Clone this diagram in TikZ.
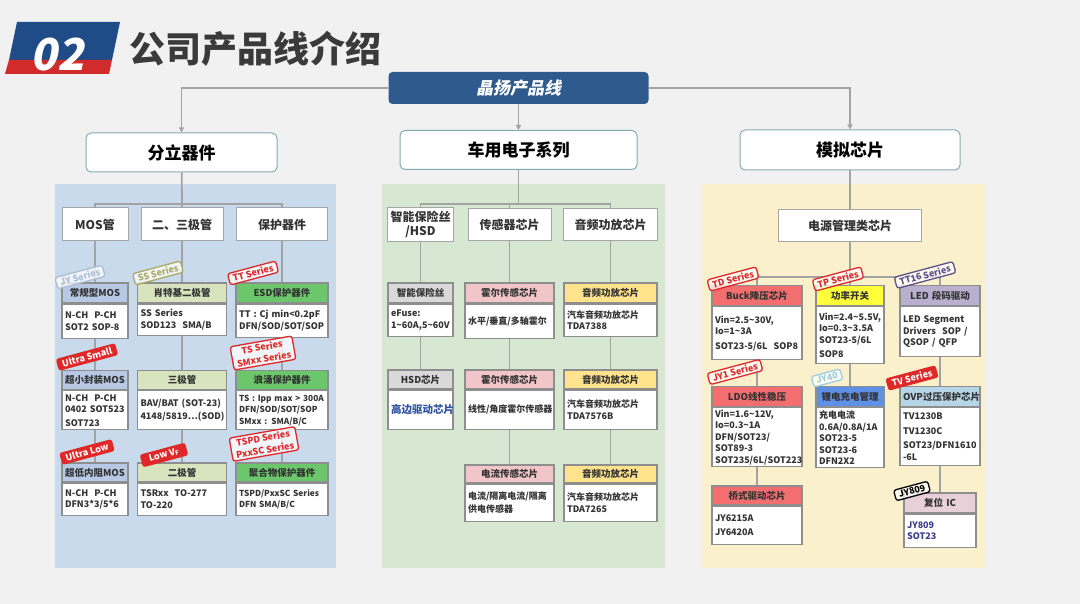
\documentclass[tikz,border=0pt]{standalone}
\usepackage{fontspec}
\setmainfont{Noto Sans CJK SC}
\newfontfamily\slantcjk{Noto Sans CJK SC}[FakeSlant=0.2]
\usetikzlibrary{arrows.meta,positioning}
\definecolor{bggray}{HTML}{F1F1F1}
\definecolor{bannerblue}{HTML}{1F4C86}
\definecolor{bannerred}{HTML}{D22B2B}
\definecolor{titlegray}{HTML}{3A3A3A}
\definecolor{rootblue}{HTML}{2F5A8E}
\definecolor{catline}{HTML}{86AAB0}
\definecolor{linkgray}{HTML}{A3A3A3}
\definecolor{cardline}{HTML}{8E8E8E}
\definecolor{txt}{HTML}{333333}
\definecolor{leftbg}{HTML}{C8DAEB}
\definecolor{midbg}{HTML}{D6E8D1}
\definecolor{rightbg}{HTML}{FBF0CC}
\definecolor{hmos}{HTML}{B7C9E4}
\definecolor{hss}{HTML}{D8E4BE}
\definecolor{hesd}{HTML}{6CC76C}
\definecolor{hgray}{HTML}{D9D9D9}
\definecolor{hpink}{HTML}{F2C6C8}
\definecolor{hyellow}{HTML}{FFE28C}
\definecolor{hsalmon}{HTML}{F36E6F}
\definecolor{hbright}{HTML}{FFFF3A}
\definecolor{hlav}{HTML}{B8B0CE}
\definecolor{hblue}{HTML}{5E90E6}
\definecolor{hpale}{HTML}{B6D5E6}
\definecolor{hrose}{HTML}{E8D0D8}
\definecolor{stampred}{HTML}{E02828}
\definecolor{stampsteel}{HTML}{AABDD6}
\definecolor{stampolive}{HTML}{AAAA62}
\definecolor{stamppurple}{HTML}{5F5088}
\definecolor{stampsky}{HTML}{9FCDE0}
\definecolor{lowblue}{HTML}{2F52A0}
\definecolor{resetblue}{HTML}{3C3C90}

\begin{document}
\begin{tikzpicture}[x=1pt,y=-1pt,>={Triangle[width=5pt,length=5pt]},
 link/.style={draw=linkgray,line width=1.8pt},
 rootbox/.style={fill=rootblue,rounded corners=4pt,text=white,font=\fontsize{17}{17}\selectfont\bfseries\slantcjk},
 catbox/.style={draw=catline,line width=1pt,fill=white,rounded corners=5pt,text=black,font=\fontsize{17}{17}\selectfont\bfseries},
 subbox/.style={draw=cardline!80,line width=1pt,fill=white,align=center,text=txt,font=\fontsize{12}{14}\selectfont\bfseries},
 head/.style={draw=cardline,line width=1.2pt,fill=#1,inner xsep=3pt,inner ysep=0pt,minimum height=20pt,align=center,text=txt,font=\fontsize{9.5}{11}\selectfont\bfseries},
 body/.style={draw=cardline,line width=1.2pt,fill=white,inner xsep=3pt,inner ysep=2pt,align=left,text=txt,font=\fontsize{9}{11.5}\selectfont\bfseries},
 tight/.style={font=\fontsize{8.3}{11.5}\selectfont\bfseries},
 stamp/.style={draw=#1,text=#1,fill=white,fill opacity=0.75,text opacity=1,line width=1.3pt,rounded corners=2.5pt,inner xsep=4pt,inner ysep=2pt,align=center,font=\fontsize{9}{10.5}\selectfont\bfseries},
 tilt/.style={rotate=15},
 twoline/.style={rotate=10,font=\fontsize{9}{12}\selectfont\bfseries},
 stampfill/.style={fill=stampred,text=white,rounded corners=2.5pt,rotate=15,inner xsep=5pt,inner ysep=2.5pt,font=\fontsize{9}{10}\selectfont\bfseries},
 lc1/.style={text width=60pt}, lc2/.style={text width=83pt}, lc3/.style={text width=86pt},
 mc1/.style={text width=59pt}, mc2/.style={text width=83pt}, mc3/.style={text width=87pt},
 rc1/.style={text width=84pt}, rc2/.style={text width=62pt}, rc3/.style={text width=74pt}, rc4/.style={text width=66pt}]
\useasboundingbox (0,0) rectangle (1080,604);
\fill[bggray] (0,0) rectangle (1080,604);
\fill[bannerblue] (17,22) -- (120,22) -- (112,60) -- (9,60) -- cycle;
\fill[bannerred] (9,60) -- (112,60) -- (109,74) -- (5,74) -- cycle;
\node[text=white,font=\fontsize{44}{44}\selectfont\bfseries\slantcjk] (num) at (57,55) {02};
\node[text=titlegray,font=\fontsize{36}{36}\selectfont\bfseries,anchor=west] (title) at (126,49) {公司产品线介绍};

\node[rootbox,minimum width=260,minimum height=32] (root) at (518.5,88) {晶扬产品线};
\node[catbox,minimum width=191,minimum height=39] (discrete) at (181.5,152.5) {分立器件};
\node[catbox,minimum width=237,minimum height=39] (auto) at (518.5,150) {车用电子系列};
\node[catbox,minimum width=220,minimum height=40] (analog) at (850,150) {模拟芯片};
\draw[link,->] (root.west) -| (discrete);\draw[link,->] (root) -- (auto);\draw[link,->] (root.east) -| (analog);

\fill[leftbg] (55,184) rectangle (336,568);
\fill[midbg] (382,184) rectangle (665,568);
\fill[rightbg] (702,184) rectangle (985,568);

\node[subbox,minimum width=66,minimum height=33] (mos) at (95,224.5) {MOS管};
\node[subbox,minimum width=82,minimum height=33] (bjt) at (182,224.5) {二、三极管};
\node[subbox,minimum width=91,minimum height=33] (prot) at (282,224.5) {保护器件};
\node[subbox,minimum width=65,minimum height=33] (fuse) at (420.5,224.5) {智能保险丝\\/HSD};
\node[subbox,minimum width=83,minimum height=32] (sensor) at (509.5,225) {传感器芯片};
\node[subbox,minimum width=94,minimum height=32] (audio) at (610.5,225) {音频功放芯片};
\node[subbox,minimum width=143,minimum height=32] (power) at (850,225.5) {电源管理类芯片};
\coordinate (lbus) at (182,204);\coordinate (mbus) at (518.5,204);\coordinate (rbus) at (850,277);
\draw[link] (discrete) -- (lbus);\draw[link] (lbus) -| (mos);\draw[link] (lbus) -- (bjt);\draw[link] (lbus) -| (prot);
\draw[link] (auto) -- (mbus);\draw[link] (mbus) -| (fuse);\draw[link] (mbus) -| (sensor);\draw[link] (mbus) -| (audio);
\draw[link] (analog) -- (power);

\node[head=hmos,lc1] (m1) at (95,293) {常规型MOS};
\node[body,lc1,minimum height=34,below=0pt of m1] (m1b) {N-CH\ \ P-CH\\SOT2 SOP-8};
\node[head=hmos,lc1,minimum height=19] (m2) at (95,380) {超小封装MOS};
\node[body,lc1,minimum height=39,below=0pt of m2] (m2b) {N-CH\ \ P-CH\\0402 SOT523\\[2pt]SOT723};
\node[head=hmos,lc1,minimum height=19] (m3) at (95,472.5) {超低内阻MOS};
\node[body,lc1,minimum height=32,below=0pt of m3] (m3b) {N-CH\ \ P-CH\\DFN3*3/5*6};
\node[head=hss,lc2] (d1) at (182,293) {肖特基二极管};
\node[body,lc2,minimum height=31,below=0pt of d1] (d1b) {SS Series\\SOD123\ \ SMA/B};
\node[head=hss,lc2,minimum height=19] (d2) at (182,380) {三极管};
\node[body,lc2,minimum height=39,below=0pt of d2] (d2b) {BAV/BAT (SOT-23)\\[2pt]4148/5819…(SOD)};
\node[head=hss,lc2,minimum height=19] (d3) at (182,472.5) {二极管};
\node[body,lc2,minimum height=32,below=0pt of d3] (d3b) {TSRxx\ \ TO-277\\TO-220};
\node[head=hesd,lc3] (p1) at (282,293) {ESD保护器件};
\node[body,lc3,minimum height=33,below=0pt of p1] (p1b) {TT : Cj min<0.2pF\\DFN/SOD/SOT/SOP};
\node[head=hesd,lc3,minimum height=19] (p2) at (282,380) {浪涌保护器件};
\node[body,lc3,tight,minimum height=39,below=0pt of p2] (p2b) {TS : Ipp max > 300A\\DFN/SOD/SOT/SOP\\SMxx : SMA/B/C};
\node[head=hesd,lc3,minimum height=19] (p3) at (282,472.5) {聚合物保护器件};
\node[body,lc3,tight,minimum height=32,below=0pt of p3] (p3b) {TSPD/PxxSC Series\\DFN SMA/B/C};
\draw[link] (mos) -- (m1);\draw[link] (m1b) -- (m2);\draw[link] (m2b) -- (m3);
\draw[link] (bjt) -- (d1);\draw[link] (d1b) -- (d2);\draw[link] (d2b) -- (d3);
\draw[link] (prot) -- (p1);\draw[link] (p1b) -- (p2);\draw[link] (p2b) -- (p3);

\node[head=hgray,mc1] (f1) at (420.5,293) {智能保险丝};
\node[body,mc1,minimum height=32,below=0pt of f1] (f1b) {eFuse:\\1\textasciitilde60A,5\textasciitilde60V};
\node[head=hgray,mc1,minimum height=19] (f2) at (420.5,379.5) {HSD芯片};
\node[body,mc1,minimum height=39,below=0pt of f2,text=lowblue,font=\fontsize{10.5}{12}\selectfont\bfseries] (f2b) {高边驱动芯片};
\node[head=hpink,mc2] (s1) at (509.5,293) {霍尔传感芯片};
\node[body,mc2,minimum height=34,below=0pt of s1] (s1b) {水平/垂直/多轴霍尔};
\node[head=hpink,mc2,minimum height=19] (s2) at (509.5,379.5) {霍尔传感芯片};
\node[body,mc2,minimum height=39,below=0pt of s2] (s2b) {线性/角度霍尔传感器};
\node[head=hpink,mc2,minimum height=18] (s3) at (509.5,474) {电流传感芯片};
\node[body,mc2,minimum height=37,below=0pt of s3] (s3b) {电流/隔离电流/隔离\\[2pt]供电传感器};
\node[head=hyellow,mc3] (a1) at (610.5,293) {音频功放芯片};
\node[body,mc3,minimum height=32,below=0pt of a1] (a1b) {汽车音频功放芯片\\TDA7388};
\node[head=hyellow,mc3,minimum height=19] (a2) at (610.5,379.5) {音频功放芯片};
\node[body,mc3,minimum height=39,below=0pt of a2] (a2b) {汽车音频功放芯片\\TDA7576B};
\node[head=hyellow,mc3,minimum height=18] (a3) at (610.5,474) {音频功放芯片};
\node[body,mc3,minimum height=37,below=0pt of a3] (a3b) {汽车音频功放芯片\\TDA7265};
\draw[link] (fuse) -- (f1);\draw[link] (f1b) -- (f2);
\draw[link] (sensor) -- (s1);\draw[link] (s1b) -- (s2);\draw[link] (s2b) -- (s3);
\draw[link] (audio) -- (a1);\draw[link] (a1b) -- (a2);\draw[link] (a2b) -- (a3);

\node[head=hsalmon,rc1] (buck) at (757,295.5) {Buck降压芯片};
\node[body,rc1,minimum height=53,below=0pt of buck] (buckb) {Vin=2.5\textasciitilde30V,\\Io=1\textasciitilde3A\\[3pt]SOT23-5/6L\ \ SOP8};
\node[head=hbright,rc2] (sw) at (850,295.5) {功率开关};
\node[body,rc2,minimum height=57,below=0pt of sw] (swb) {Vin=2.4\textasciitilde5.5V,\\Io=0.3\textasciitilde3.5A\\SOT23-5/6L\\[3pt]SOP8};
\node[head=hlav,rc3] (led) at (940,295.5) {LED 段码驱动};
\node[body,rc3,minimum height=50,below=0pt of led] (ledb) {LED Segment\\Drivers\ \ SOP /\\QSOP / QFP};
\node[head=hsalmon,rc1] (ldo) at (757,396.5) {LDO线性稳压};
\node[body,rc1,minimum height=56,below=0pt of ldo] (ldob) {Vin=1.6\textasciitilde12V,\\Io=0.3\textasciitilde1A\\DFN/SOT23/\\SOT89-3\\SOT235/6L/SOT223};
\node[head=hblue,rc2] (chg) at (850,396.5) {锂电充电管理};
\node[body,rc2,minimum height=60,below=0pt of chg] (chgb) {充电电流\\0.6A/0.8A/1A\\SOT23-5\\SOT23-6\\DFN2X2};
\node[head=hpale,rc3] (ovp) at (940,396.5) {OVP过压保护芯片};
\node[body,rc3,minimum height=58,below=0pt of ovp] (ovpb) {TV1230B\\[3pt]TV1230C\\[3pt]SOT23/DFN1610\\-6L};
\node[head=hsalmon,rc1,minimum height=19] (bridge) at (757,495.5) {桥式驱动芯片};
\node[body,rc1,minimum height=38,below=0pt of bridge] (bridgeb) {JY6215A\\[2pt]JY6420A};
\node[head=hrose,rc4] (reset) at (940,503) {复位 IC};
\node[body,rc4,minimum height=33,below=0pt of reset,text=resetblue] (resetb) {JY809\\SOT23};
\draw[link] (power) -- (rbus);\draw[link] (rbus) -| (buck);\draw[link] (rbus) -| (sw);\draw[link] (rbus) -| (led);
\draw[link] (buckb) -- (ldo);\draw[link] (ldob) -- (bridge);
\draw[link] (swb) -- (chg);
\draw[link] (ledb) -- (ovp);\draw[link] (ovpb) -- (reset);

\node[stamp=stampsteel,tilt] (tagjy) at (80,277) {JY Series};
\node[stamp=stampolive,tilt] (tagss) at (158,273) {SS Series};
\node[stamp=stampred,tilt] (tagtt) at (253,273) {TT Series};
\node[stampfill] (tagus) at (87,357) {Ultra Small};
\node[stamp=stampred,twoline] (tagts) at (263,353) {TS Series\\SMxx Series};
\node[stampfill] (tagul) at (87,452) {Ultra Low};
\node[stampfill,inner xsep=8pt] (taglv) at (164,455) {Low V\textsubscript{F}};
\node[stamp=stampred,twoline] (tagtspd) at (264,444) {TSPD Series\\PxxSC Series};
\node[stamp=stampred,tilt] (tagtd) at (733,279) {TD Series};
\node[stamp=stampred,tilt] (tagtp) at (838,279) {TP Series};
\node[stamp=stamppurple,tilt] (tagtt16) at (925,275) {TT16 Series};
\node[stamp=stampred,tilt] (tagjy1) at (735,372) {JY1 Series};
\node[stamp=stampsky,tilt] (tagjy40) at (827,378) {JY40};
\node[stampfill] (tagtv) at (912,378) {TV Series};
\node[stamp=black,tilt] (tagjy809) at (912,491) {JY809};
\end{tikzpicture}
\end{document}
